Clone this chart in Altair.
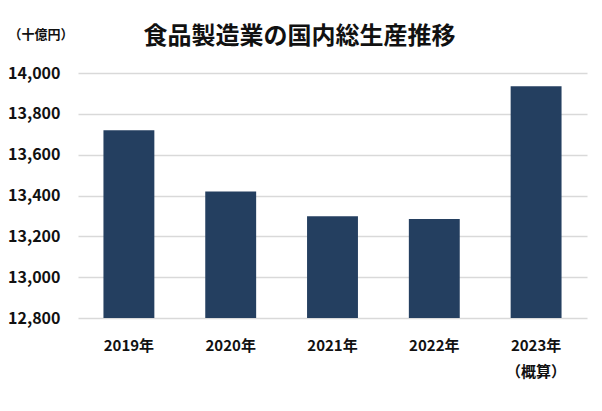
import altair as alt
import pandas as pd

years = ["2019年", "2020年", "2021年", "2022年", "2023年"]
values = [13720, 13420, 13298, 13285, 13935]
y_ticks = [12800, 13000, 13200, 13400, 13600, 13800, 14000]
baseline = 12800

df = pd.DataFrame({"year": years, "value": values})

FONT = "Noto Sans CJK JP"

chart = alt.Chart(df).mark_bar(color="#243f60").encode(
    x=alt.X(
        "year:N",
        sort=years,
        scale=alt.Scale(paddingInner=0.5, paddingOuter=0.25),
        axis=alt.Axis(
            title=None,
            labelAngle=0,
            domain=False,
            ticks=False,
            labelFont=FONT,
            labelFontSize=15,
            labelFontWeight="bold",
            labelColor="#111111",
            labelBaseline="top",
            labelPadding=20,
            labelLineHeight=26,
            labelExpr="datum.value == '2023年' ? ['2023年', '（概算）'] : datum.value",
        ),
    ),
    y=alt.Y(
        "value:Q",
        scale=alt.Scale(domain=[12800, 14000], zero=False, nice=False),
        axis=alt.Axis(
            values=y_ticks,
            format=",.0f",
            title="（十億円）",
            titleAngle=0,
            titleAlign="left",
            titleBaseline="middle",
            titleX=-70,
            titleY=-39,
            titleFont=FONT,
            titleFontSize=13,
            titleFontWeight="bold",
            titleColor="#111111",
            domain=False,
            ticks=False,
            labelFont=FONT,
            labelFontSize=16,
            labelFontWeight="bold",
            labelColor="#111111",
            labelPadding=18,
            gridColor="#d9d9d9",
            gridWidth=1.5,
        ),
    ),
    y2=alt.Y2(datum=baseline),
).properties(
    width=509,
    height=245,
    title=alt.TitleParams(
        text="食品製造業の国内総生産推移",
        font=FONT,
        fontSize=24,
        fontWeight="bold",
        color="#111111",
        anchor="middle",
        frame="group",
        dx=-33,
        baseline="alphabetic",
        offset=-40,
    ),
    autosize=alt.AutoSizeParams(type="none"),
    padding={"left": 70, "top": 65, "right": 7, "bottom": 80},
).configure_view(stroke=None)

chart.save("out.html", embed_options={"renderer": "svg", "actions": False})
